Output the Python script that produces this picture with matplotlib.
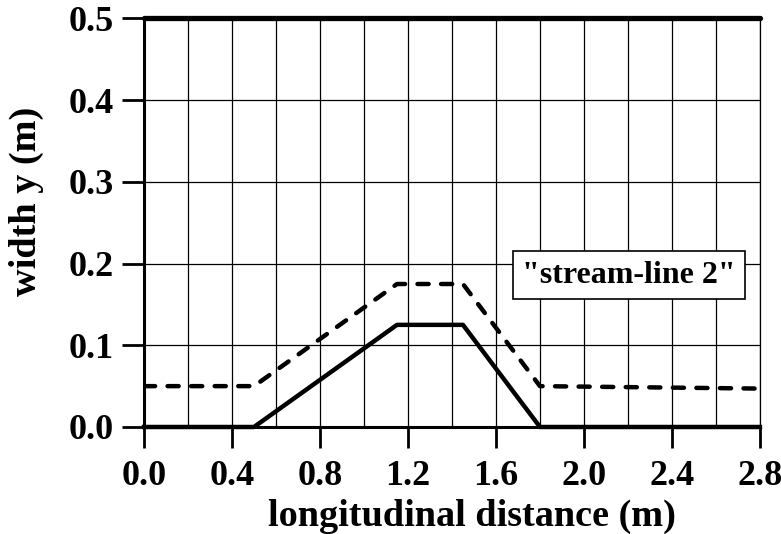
import matplotlib.pyplot as plt
from matplotlib.ticker import MultipleLocator

# stream-line data (m)
wall_x = [0.0, 0.5, 1.15, 1.45, 1.8, 2.8]
wall_y = [0.0, 0.0, 0.125, 0.125, 0.0, 0.0]
stream_x = [0.0, 0.5, 1.15, 1.45, 1.8, 2.8]
stream_y = [0.05, 0.05, 0.175, 0.175, 0.05, 0.047]
top_x = [0.0, 2.8]
top_y = [0.5, 0.5]

x_ticks = [0.0, 0.4, 0.8, 1.2, 1.6, 2.0, 2.4, 2.8]
y_ticks = [0.0, 0.1, 0.2, 0.3, 0.4, 0.5]

plt.rcParams['font.family'] = ['Liberation Serif', 'DejaVu Serif']
plt.rcParams['font.weight'] = 'bold'

fig = plt.figure(figsize=(7.81, 5.34), dpi=100)
ax = fig.add_axes([0.1844, 0.2004, 0.973 - 0.1844, 0.9654 - 0.2004])

# grid
ax.xaxis.set_minor_locator(MultipleLocator(0.2))
ax.grid(which='both', color='black', linewidth=0.9)
ax.set_axisbelow(True)

ax.plot(top_x, top_y, color='black', linewidth=3.8, solid_capstyle='round', clip_on=False)
ax.plot(wall_x, wall_y, color='black', linewidth=3.2, clip_on=False)
ax.plot(stream_x, stream_y, color='black', linewidth=3.2, linestyle=(0, (2.5, 2.8)),
        dash_capstyle='round')

ax.set_xlim(0, 2.8)
ax.set_ylim(0, 0.5)
ax.set_xticks(x_ticks)
ax.set_xticklabels([f'{v:.1f}' for v in x_ticks])
ax.set_yticks(y_ticks)
ax.set_yticklabels([f'{v:.1f}' for v in y_ticks])

ax.tick_params(axis='x', which='major', direction='out', length=15, width=2, labelsize=26, pad=9)
ax.tick_params(axis='x', which='minor', length=0)
ax.tick_params(axis='y', direction='out', length=16, width=2, labelsize=26, pad=6)

ax.spines['top'].set_visible(False)
ax.spines['right'].set_linewidth(0.9)
ax.spines['left'].set_linewidth(2.2)
ax.spines['bottom'].set_linewidth(2.2)

ax.set_xlabel('longitudinal distance (m)', fontsize=27.5, fontweight='bold')
ax.xaxis.set_label_coords(0.532, -0.175)
ax.set_ylabel('width y (m)', fontsize=27.5, fontweight='bold')
ax.yaxis.set_label_coords(-0.163, 0.553)

ax.text(2.205, 0.186, '"stream-line 2"', fontsize=23, fontweight='bold', ha='center', va='center',
        bbox=dict(boxstyle='square,pad=0.3', facecolor='white', edgecolor='black', linewidth=1.2))

plt.savefig('out.png', dpi=100)
